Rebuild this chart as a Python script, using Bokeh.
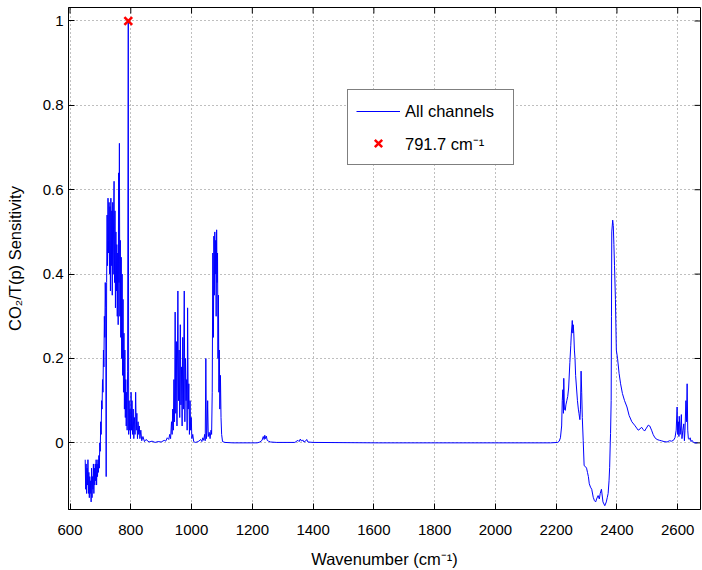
import math

from bokeh.plotting import figure
from bokeh.models import Range1d, Legend, LegendItem, FixedTicker, NumeralTickFormatter
from bokeh.embed import file_html
from bokeh.resources import INLINE

# Longwave band (cm^-1) and normalised CO2/T(p) sensitivity
band1_wn = [650, 651.5, 653, 654.5, 656, 657.5, 659, 660.5, 662, 663.5, 665, 666.5, 668, 669.5,
            671, 672.5, 674, 675.5, 677, 678.5, 680, 681.5, 683, 684.5, 686, 687.5, 689, 690.5,
            692, 693.5, 695, 696.5, 698, 699.5, 701, 702.5, 704, 705.5, 707, 708.5, 710, 711.5,
            713, 714.5, 716, 717.5, 719, 720.5, 722, 723.5, 725, 726.5, 727, 728.5, 730, 731.5,
            733, 734.5, 736, 737.5, 739, 740.5, 742, 743.5, 745, 746.5, 748, 749.5, 751, 752.5,
            754, 755.5, 757, 758.5, 760, 761, 762.5, 764, 765.5, 767, 768.5, 770, 771.5, 773,
            774.5, 776, 777.5, 779, 780.5, 782, 783.5, 785, 786.5, 788, 789.5, 791.7, 793, 794.5,
            796, 797.5, 799, 801, 802.5, 804, 806, 808, 810, 812, 814, 816, 818, 820, 822, 824,
            826, 828, 830, 833, 836, 840, 845, 850, 860, 870, 880, 890, 900, 910, 915, 920, 925,
            928, 931, 934, 936, 938, 940, 942, 944, 946, 948, 950, 952, 955, 957, 959, 961, 963,
            965, 967, 969, 971, 973, 976, 978, 980, 982, 984, 985.5, 987, 989, 991, 993, 995,
            997, 999, 1001, 1004, 1007, 1012, 1018, 1024, 1030, 1034, 1037, 1040, 1043, 1045,
            1047, 1049, 1051, 1053, 1055, 1058, 1061, 1064, 1066, 1068, 1070, 1072, 1073.5, 1075,
            1076.5, 1078, 1079.5, 1081, 1082.5, 1084, 1085.5, 1087, 1088.5, 1090, 1091.5, 1093,
            1095, 1097, 1099, 1102, 1110, 1136]
band1_val = [-0.04, -0.11, -0.05, -0.12, -0.06, -0.10, -0.04, -0.12, -0.07, -0.13, -0.08, -0.12,
             -0.09, -0.14, -0.06, -0.13, -0.08, -0.11, -0.05, -0.12, -0.06, -0.10, -0.05, -0.09,
             -0.04, -0.10, -0.05, -0.08, -0.04, -0.07, -0.03, -0.06, 0.00, -0.02, 0.05, 0.02,
             0.10, 0.08, 0.15, 0.12, 0.22, 0.18, 0.30, 0.25, 0.38, 0.32, -0.08, 0.38, 0.54, 0.42,
             0.58, 0.45, 0.48, 0.57, 0.40, 0.56, 0.36, 0.58, 0.42, 0.55, 0.35, 0.57, 0.40, 0.54,
             0.62, 0.38, 0.55, 0.32, 0.50, 0.36, 0.47, 0.30, 0.45, 0.28, 0.64, 0.38, 0.71, 0.30,
             0.48, 0.25, 0.44, 0.20, 0.40, 0.16, 0.34, 0.12, 0.26, 0.08, 0.22, 0.06, 0.15, 0.04,
             0.12, 0.03, 0.17, 1.00, 0.02, 0.10, 0.03, 0.08, 0.01, 0.12, 0.03, 0.10, 0.02, 0.08,
             0.01, 0.06, 0.02, 0.12, 0.03, 0.07, 0.01, 0.05, 0.02, 0.04, 0.01, 0.03, 0.005,
             0.015, 0.003, 0.008, 0.002, 0.004, 0.001, 0.003, 0.002, 0.006, 0.004, 0.012, 0.008,
             0.02, 0.01, 0.05, 0.02, 0.08, 0.03, 0.15, 0.05, 0.31, 0.07, 0.24, 0.04, 0.36, 0.10,
             0.22, 0.06, 0.28, 0.09, 0.18, 0.04, 0.25, 0.08, 0.36, 0.05, 0.20, 0.10, 0.15, 0.03,
             0.32, 0.08, 0.14, 0.02, 0.10, 0.03, 0.06, 0.01, 0.02, 0.003, 0.001, 0.002, 0.004,
             0.008, 0.003, 0.012, 0.006, 0.02, 0.005, 0.20, 0.01, 0.03, 0.10, 0.015, 0.025, 0.01,
             0.03, 0.02, 0.12, 0.45, 0.25, 0.49, 0.35, 0.50, 0.40, 0.48, 0.30, 0.505, 0.38, 0.45,
             0.20, 0.35, 0.12, 0.22, 0.08, 0.16, 0.06, 0.02, 0.003, 0.001, 0.0]

# Midwave band
band2_wn = [1216, 1225, 1232, 1236, 1239, 1241, 1243, 1246, 1249, 1253, 1260, 1280, 1340, 1350,
            1354, 1358, 1362, 1366, 1370, 1375, 1379, 1383, 1400, 1614]
band2_val = [0.0, 0.002, 0.006, 0.015, 0.008, 0.018, 0.01, 0.016, 0.006, 0.004, 0.002, 0.001,
             0.001, 0.006, 0.003, 0.009, 0.004, 0.007, 0.002, 0.004, 0.008, 0.002, 0.001, 0.0]

# Shortwave band
band3_wn = [2181, 2205, 2210, 2214, 2218, 2220, 2222, 2224, 2225, 2227, 2230, 2232, 2235, 2238,
            2241, 2245, 2248, 2250, 2252, 2253, 2255, 2256, 2258, 2260, 2262, 2264, 2267, 2270,
            2273, 2275, 2278, 2280, 2282, 2284, 2286, 2289, 2292, 2296, 2300, 2303, 2306, 2309,
            2313, 2317, 2322, 2326, 2330, 2333, 2338, 2342, 2345, 2349, 2354, 2360, 2365, 2368,
            2371, 2374, 2376, 2378, 2379, 2381, 2382, 2383, 2386, 2388, 2390, 2392, 2395, 2398,
            2402, 2407, 2412, 2418, 2425, 2433, 2440, 2449, 2458, 2465, 2470, 2476, 2481, 2486,
            2491, 2497, 2503, 2508, 2514, 2519, 2525, 2532, 2540, 2546, 2555, 2565, 2573, 2580,
            2586, 2591, 2595, 2598, 2600, 2602, 2604, 2605, 2608, 2610, 2612, 2614, 2617, 2620,
            2622, 2624, 2627, 2629, 2631, 2633, 2635, 2638, 2641, 2644, 2647, 2652, 2657, 2665]
band3_val = [0.0, 0.001, 0.004, 0.012, 0.04, 0.10, 0.126, 0.07, 0.153, 0.08, 0.077, 0.09, 0.10,
             0.11, 0.13, 0.19, 0.23, 0.26, 0.28, 0.29, 0.26, 0.28, 0.26, 0.22, 0.20, 0.16, 0.13,
             0.10, 0.08, 0.07, 0.055, 0.08, 0.17, 0.12, 0.06, 0.005, -0.054, -0.056, -0.06,
             -0.07, -0.08, -0.097, -0.105, -0.11, -0.129, -0.137, -0.14, -0.133, -0.125, -0.133,
             -0.12, -0.11, -0.14, -0.149, -0.14, -0.13, -0.12, -0.09, -0.058, 0.0, 0.022, 0.10,
             0.30, 0.50, 0.528, 0.515, 0.47, 0.42, 0.34, 0.22, 0.20, 0.165, 0.14, 0.117, 0.10,
             0.085, 0.065, 0.05, 0.042, 0.035, 0.03, 0.033, 0.037, 0.032, 0.028, 0.035, 0.042,
             0.04, 0.03, 0.02, 0.012, 0.008, 0.006, 0.005, 0.003, 0.002, 0.005, 0.004, 0.006,
             0.012, 0.03, 0.085, 0.02, 0.05, 0.015, 0.063, 0.02, 0.04, 0.067, 0.01, 0.03, 0.045,
             0.005, 0.03, 0.10, 0.05, 0.14, 0.03, 0.01, 0.008, 0.012, 0.003, 0.006, 0.001, 0.0,
             0.0]

peak_wn = 791.7
peak_val = 1.0

x_ticks = [600, 800, 1000, 1200, 1400, 1600, 1800, 2000, 2200, 2400, 2600]
y_ticks = [0, 0.2, 0.4, 0.6, 0.8, 1.0]
x_lim = (595, 2675)
y_lim = (-0.158, 1.032)

x_title = "Wavenumber (cm⁻¹)"
y_title = "CO₂/T(p) Sensitivity"
legend_labels = ["All channels", f"{peak_wn} cm⁻¹"]

wavenumber = band1_wn + band2_wn + band3_wn
sensitivity = band1_val + band2_val + band3_val

FONT = "Liberation Sans"

p = figure(width=702, height=570, output_backend="svg", toolbar_location=None,
           x_range=Range1d(*x_lim), y_range=Range1d(*y_lim),
           min_border_left=68, min_border_right=2, min_border_top=7, min_border_bottom=60,
           background_fill_color="white", border_fill_color="white")
p.outline_line_color = "black"
p.outline_line_width = 1

p.xaxis.ticker = FixedTicker(ticks=x_ticks)
p.yaxis.ticker = FixedTicker(ticks=y_ticks)
p.yaxis.formatter = NumeralTickFormatter(format="0.[0]")
p.xaxis.axis_label = x_title
p.yaxis.axis_label = y_title

for ax in p.axis:
    ax.major_tick_in = 6
    ax.major_tick_out = 0
    ax.minor_tick_in = 0
    ax.minor_tick_out = 0
    ax.axis_line_color = "black"
    ax.major_tick_line_color = "black"
    ax.major_label_text_font = FONT
    ax.major_label_text_font_size = "15px"
    ax.major_label_text_color = "black"
    ax.axis_label_text_font = FONT
    ax.axis_label_text_font_size = "16.5px"
    ax.axis_label_text_font_style = "normal"
    ax.axis_label_text_color = "black"
p.xaxis.major_label_standoff = 15
p.xaxis.axis_label_standoff = 12
p.yaxis.major_label_standoff = 5
p.yaxis.axis_label_standoff = 16

p.xgrid.grid_line_color = "#7f7f7f"
p.ygrid.grid_line_color = "#7f7f7f"
p.xgrid.grid_line_dash = "1 3"
p.ygrid.grid_line_dash = "1 3"

# inward ticks along the top and right edges of the box
p.ray(x=x_ticks, y=[y_lim[1]] * len(x_ticks), length=6, length_units="screen",
      angle=-math.pi / 2, line_color="black", line_width=1)
p.ray(x=[x_lim[1]] * len(y_ticks), y=y_ticks, length=6, length_units="screen",
      angle=math.pi, line_color="black", line_width=1)

line_r = p.line(wavenumber, sensitivity, line_color="#0000ff", line_width=1)
mark_r = p.scatter([peak_wn], [peak_val], marker="x", size=11, line_color="#ff0000",
                   line_width=2.5)

legend = Legend(items=[LegendItem(label=legend_labels[0], renderers=[line_r]),
                       LegendItem(label=legend_labels[1], renderers=[mark_r])],
                location=(279, 344), padding=8, spacing=6, margin=0,
                label_height=26, glyph_height=26, glyph_width=44, label_width=100,
                label_standoff=5, label_text_font=FONT, label_text_font_size="16.5px",
                label_text_color="black", border_line_color="black", border_line_width=1,
                background_fill_color="white", background_fill_alpha=1.0)
p.add_layout(legend, "center")

open("out.html", "w").write(file_html(p, INLINE))
